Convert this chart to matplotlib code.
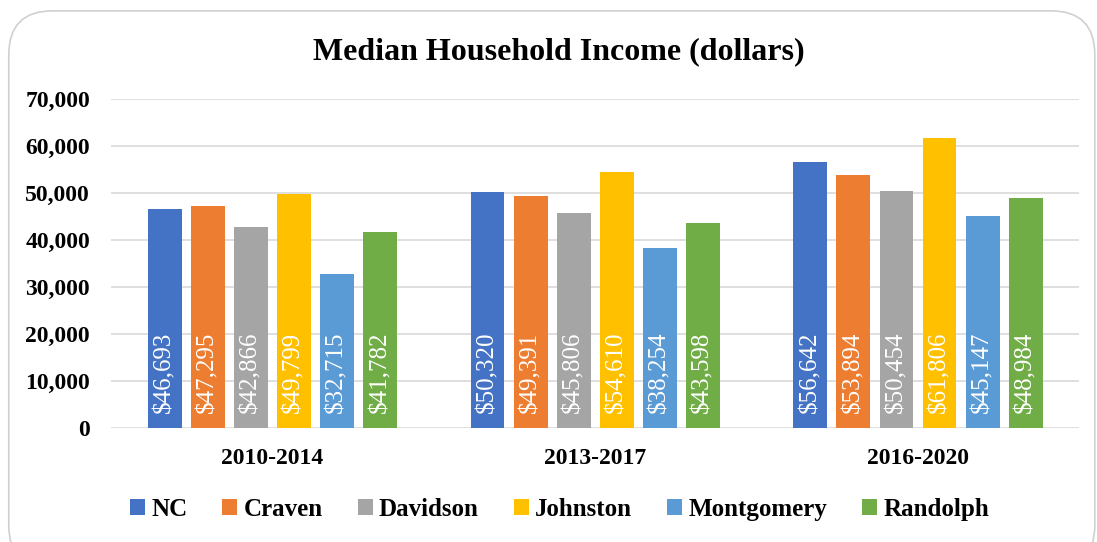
import numpy as np
import matplotlib
matplotlib.use("Agg")
import matplotlib.pyplot as plt
from matplotlib.patches import FancyBboxPatch

periods = ["2010-2014", "2013-2017", "2016-2020"]
places = ["NC", "Craven", "Davidson", "Johnston", "Montgomery", "Randolph"]
nc = [46693, 50320, 56642]
craven = [47295, 49391, 53894]
davidson = [42866, 45806, 50454]
johnston = [49799, 54610, 61806]
montgomery = [32715, 38254, 45147]
randolph = [41782, 43598, 48984]
colors = ["#4472C4", "#ED7D31", "#A5A5A5", "#FFC000", "#5B9BD5", "#70AD47"]

series = [nc, craven, davidson, johnston, montgomery, randolph]

plt.rcParams['font.family'] = ['Liberation Serif', 'DejaVu Serif']
plt.rcParams['font.weight'] = 'bold'

fig = plt.figure(figsize=(10.97, 5.42), dpi=100)
# rounded chart border
frame = FancyBboxPatch((0.008, -0.05), 0.99, 1.03, boxstyle="round,pad=0,rounding_size=0.04",
                       transform=fig.transFigure, facecolor="none", edgecolor="#D0D0D0",
                       linewidth=1.2, mutation_aspect=1097/542, zorder=5)
fig.patches.append(frame)

ax = fig.add_axes([0.101, 0.210, 0.883, 0.607])
ax.set_facecolor("none")

x = np.arange(len(periods))
step = 0.1333
width = 0.105
for i, (name, vals) in enumerate(zip(places, series)):
    pos = x + (i - 2.5) * step
    ax.bar(pos, vals, width, color=colors[i], label=name, zorder=3)
    for px, v in zip(pos, vals):
        ax.annotate("${:,}".format(v), (px, 0), xytext=(0, 11), textcoords="offset points",
                    rotation=90, ha="center", va="bottom", color="white",
                    fontsize=18, fontweight="normal", zorder=4)

ax.set_xlim(-0.5, 2.5)
ax.set_ylim(0, 70000)
ax.set_yticks(np.arange(0, 70001, 10000))
ax.set_yticklabels(["{:,}".format(t) for t in range(0, 70001, 10000)], fontsize=17, fontweight="bold")
ax.set_xticks(x)
ax.set_xticklabels(periods, fontsize=17, fontweight="bold")
ax.tick_params(axis="both", length=0)
ax.tick_params(axis="y", pad=15)
ax.tick_params(axis="x", pad=14)
ax.yaxis.grid(True, color="#D9D9D9", linewidth=1.2, zorder=0)
for s in ax.spines.values():
    s.set_visible(False)

fig.text(0.509, 0.905, "Median Household Income (dollars)", ha="center", va="center",
         fontsize=23, fontweight="bold")

handles, labels = ax.get_legend_handles_labels()
fig.legend(handles, labels, loc="center", bbox_to_anchor=(0.51, 0.06), ncol=6, frameon=False,
           prop={"size": 18, "weight": "bold"}, handlelength=0.6, handleheight=0.6,
           handletextpad=0.25, columnspacing=1.4)

fig.savefig("out.png", dpi=100)
